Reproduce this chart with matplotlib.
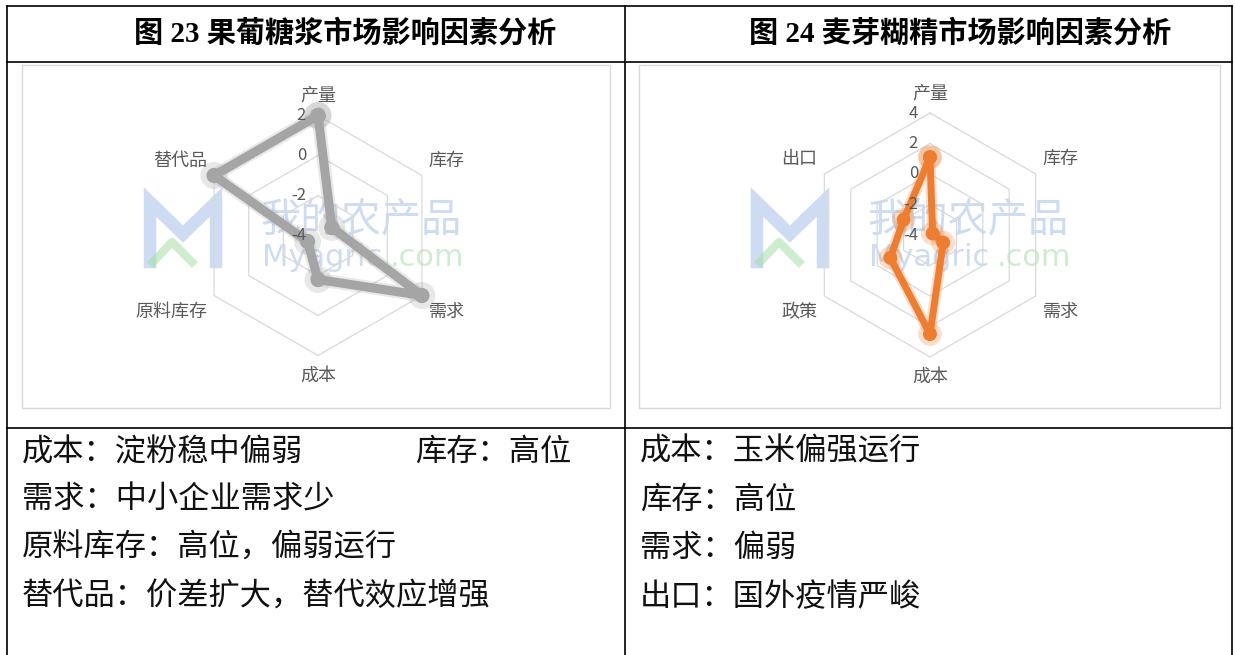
import numpy as np
import matplotlib
matplotlib.use("Agg")
import matplotlib.pyplot as plt
import matplotlib.patheffects as pe
import matplotlib.transforms as mtransforms
from matplotlib.patches import Rectangle

plt.rcParams['font.family'] = ['Noto Sans CJK SC', 'DejaVu Sans']

# chart data
cats_left = ['产量', '库存', '需求', '成本', '原料库存', '替代品']
vals_left = [2, -3.2, 2, -1.8, -3.4, 2]
ticks_left = [-4, -2, 0, 2]

cats_right = ['产量', '库存', '需求', '成本', '政策', '出口']
vals_right = [1.1, -3.8, -3, 2.5, -1, -2]
ticks_right = [-4, -2, 0, 2, 4]

title_left = '图 23 果葡糖浆市场影响因素分析'
title_right = '图 24 麦芽糊精市场影响因素分析'
notes_left = ['成本：淀粉稳中偏弱', '需求：中小企业需求少',
              '原料库存：高位，偏弱运行', '替代品：价差扩大，替代效应增强']
note_left_extra = '库存：高位'
notes_right = ['成本：玉米偏强运行', '库存：高位', '需求：偏弱', '出口：国外疫情严峻']

W, H = 1235, 655
fig = plt.figure(figsize=(W / 100, H / 100), dpi=100)
bg = fig.add_axes([0, 0, 1, 1])
bg.set_xlim(0, W)
bg.set_ylim(H, 0)
bg.axis('off')

# table borders
lw_tab = 1.2
for y in [6, 62, 428]:
    bg.plot([7, 1232], [y, y], color='black', lw=lw_tab)
for x in [7, 625, 1232]:
    bg.plot([x, x], [6, H], color='black', lw=lw_tab)

# titles
tfam = ['Liberation Serif', 'Noto Sans CJK SC']
bg.text(345, 33, title_left, ha='center', va='center', fontsize=21,
        fontweight='bold', family=tfam)
bg.text(960, 33, title_right, ha='center', va='center', fontsize=21,
        fontweight='bold', family=tfam)

# notes
rows_y = [452, 500, 548, 597]
for y, s in zip(rows_y, notes_left):
    bg.text(22, y, s, ha='left', va='center', fontsize=22.5, color='#111111')
bg.text(415, rows_y[0], note_left_extra, ha='left', va='center', fontsize=22.5, color='#111111')
for y, s in zip(rows_y, notes_right):
    bg.text(640, y, s, ha='left', va='center', fontsize=22.5, color='#111111')

# chart frames
bg.add_patch(Rectangle((22, 65), 588, 343, fill=False, ec='#D9D9D9', lw=1))
bg.add_patch(Rectangle((639, 65), 581, 343, fill=False, ec='#D9D9D9', lw=1))


# watermark
def watermark(dx):
    bg.plot([150 + dx, 150 + dx, 183 + dx, 216 + dx, 216 + dx],
            [262, 202, 234, 202, 262], color='#9DBBE6', lw=9, alpha=0.5,
            solid_joinstyle='miter', zorder=1)
    bg.plot([153 + dx, 172 + dx, 192 + dx], [262, 242, 262], color='#A6DDA6',
            lw=6, alpha=0.55, zorder=1)
    bg.text(260 + dx, 220, '我的农产品', ha='left', va='center', fontsize=29,
            color='#9DBBE6', alpha=0.5, zorder=1)
    bg.text(262 + dx, 258, 'Myagric', ha='left', va='center', fontsize=22,
            family='DejaVu Sans', color='#9DBBE6', alpha=0.5, zorder=1)
    bg.text(464 + dx, 258, '.com', ha='right', va='center', fontsize=22,
            family='DejaVu Sans', color='#A6DDA6', alpha=0.55, zorder=1)


watermark(0)
watermark(607)


def radar(rect, cats, vals, ticks, color, lw, ms):
    ax = fig.add_axes(rect, projection='polar')
    ax.set_theta_zero_location('N')
    ax.set_theta_direction(-1)
    lo, hi = ticks[0], ticks[-1]
    ax.set_ylim(lo, hi)
    ax.axis('off')
    ax.patch.set_alpha(0)
    ang = np.linspace(0, 2 * np.pi, len(cats), endpoint=False)
    ang_c = np.append(ang, ang[0])
    for t in ticks[1:]:
        ax.plot(ang_c, [t] * (len(cats) + 1), color='#D9D9D9', lw=0.9,
                clip_on=False, zorder=1)
    v = list(vals) + [vals[0]]
    ax.plot(ang_c, v, color=color, lw=lw, marker='o', ms=ms, mec=color, mfc=color,
            clip_on=False, zorder=3, solid_joinstyle='round',
            path_effects=[pe.Stroke(linewidth=lw + 3, foreground=color, alpha=0.25),
                          pe.Normal()])
    for t in ticks:
        tr = mtransforms.offset_copy(ax.transData, fig=fig, x=-12, y=0, units='dots')
        ax.text(0, t, str(t), transform=tr, ha='right', va='center',
                fontsize=12, color='#595959', zorder=4)
    for a, c in zip(ang, cats):
        s, co = np.sin(a), np.cos(a)
        if abs(s) < 0.1:
            dx, dy, ha = 0, 20 if co > 0 else -20, 'center'
        else:
            dx = 7 if s > 0 else -7
            dy = 15 if co > 0 else -16
            ha = 'left' if s > 0 else 'right'
        tr = mtransforms.offset_copy(ax.transData, fig=fig, x=dx, y=dy, units='dots')
        ax.text(a, hi, c, transform=tr, ha=ha, va='center', fontsize=13,
                color='#595959')
    return ax


radar([198 / W, (H - 355.5) / H, 240 / W, 240 / H], cats_left, vals_left,
      ticks_left, '#A5A5A5', 6.5, 10)
radar([808 / W, (H - 357) / H, 244 / W, 244 / H], cats_right, vals_right,
      ticks_right, '#ED7D31', 5, 9)

fig.savefig('out.png', dpi=100)
